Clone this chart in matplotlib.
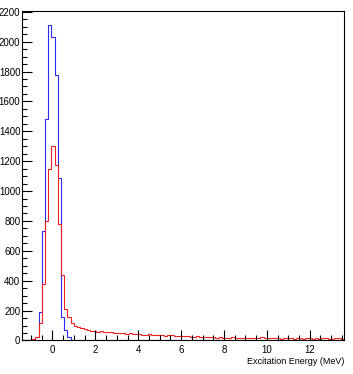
import numpy as np
import matplotlib
matplotlib.use("Agg")
import matplotlib.pyplot as plt
from matplotlib.ticker import MultipleLocator

plt.rcParams['font.family'] = ['Liberation Sans Narrow', 'Liberation Sans', 'DejaVu Sans']

# 100 bins, 0.15 MeV wide, from -1.4 to 13.6 MeV
e_min = -1.4
e_max = 13.6
n_bins = 100

blue_counts = [0, 0, 0, 5, 25, 190, 730, 1480, 2110, 2030,
               1780, 1090, 160, 70, 25, 5] + [0] * 84

red_counts = [0, 0, 5, 10, 25, 115, 380, 800, 1145, 1300,
              1176, 778, 435, 212, 158, 115, 100, 90, 82, 75,
              70, 66, 63, 60, 61, 57, 55, 57, 52, 50,
              52, 48, 46, 48, 43, 44, 41, 40, 38, 41,
              36, 37, 35, 38, 33, 34, 36, 32, 30, 31,
              28, 30, 26, 25, 27, 24, 22, 25, 21, 23,
              20, 22, 19, 20, 18, 21, 17, 19, 16, 18,
              20, 17, 15, 18, 22, 16, 17, 15, 14, 17,
              13, 16, 14, 15, 12, 14, 16, 13, 15, 14,
              12, 15, 13, 14, 16, 12, 13, 15, 14, 12]

x_label = "Excitation Energy (MeV)"

edges = np.linspace(e_min, e_max, n_bins + 1)

fig = plt.figure(figsize=(3.53, 3.74), dpi=100)
ax = fig.add_axes([0.0637, 0.0896, 0.9108, 0.881])

ax.stairs(blue_counts, edges, color="#2a2af0", linewidth=0.8)
ax.stairs(red_counts, edges, color="#f02020", linewidth=0.8)

ax.set_xlim(e_min, e_max)
ax.set_ylim(0, 2205)

ax.xaxis.set_major_locator(MultipleLocator(2))
ax.xaxis.set_minor_locator(MultipleLocator(0.5))
ax.yaxis.set_major_locator(MultipleLocator(200))
ax.yaxis.set_minor_locator(MultipleLocator(50))

ax.tick_params(which="both", direction="in", top=False, right=False,
               labelsize=7, width=0.8, color="black")
ax.tick_params(which="major", length=7)
ax.tick_params(which="minor", length=3.5)
ax.tick_params(axis="x", pad=3)
ax.tick_params(axis="y", pad=1.5)

for s in ax.spines.values():
  s.set_linewidth(0.8)

ax.set_xlabel(x_label, fontsize=6.5, loc="right", labelpad=1.5)

fig.savefig("out.png", dpi=100)
